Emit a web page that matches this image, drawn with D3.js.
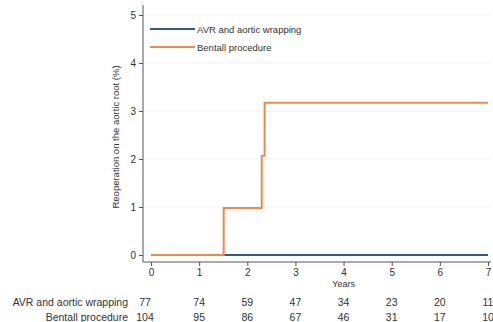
<!DOCTYPE html>
<html lang="en">
<head>
<meta charset="utf-8"/>
<script src="https://d3js.org/d3.v7.min.js"></script>
<style>
  body { margin: 0; background: #fff; }
  text { font-family: "Liberation Sans", Arial, sans-serif; fill: #333; }
</style>
</head>
<body>
<div id="km_chart"></div>
<script>
  const width = 493;
  const height = 322;

  // data
  const groups = ["AVR and aortic wrapping", "Bentall procedure"];
  const colors = ["#2f5d85", "#f08a4b"];
  // step curves: [year, cumulative %]
  const avrSteps = [[0, 0], [7, 0]];
  const bentallSteps = [[0, 0], [1.51, 0.98], [2.3, 2.07], [2.36, 3.17], [7, 3.17]];
  const xTicks = [0, 1, 2, 3, 4, 5, 6, 7];
  const yTicks = [0, 1, 2, 3, 4, 5];
  const avrAtRisk = [77, 74, 59, 47, 34, 23, 20, 11];
  const bentallAtRisk = [104, 95, 86, 67, 46, 31, 17, 10];

  const svg = d3.select("#km_chart").append("svg")
    .attr("width", width)
    .attr("height", height);

  const x = d3.scaleLinear().domain([0, 7]).range([151, 488]);
  const y = d3.scaleLinear().domain([0, 5]).range([255, 15]);

  // grid lines
  svg.append("g")
    .selectAll("line")
    .data(yTicks)
    .join("line")
    .attr("x1", 144)
    .attr("x2", 490)
    .attr("y1", d => y(d))
    .attr("y2", d => y(d))
    .attr("stroke", "#eef1f4")
    .attr("stroke-width", 1);

  // axes
  const yAxis = svg.append("g")
    .attr("transform", "translate(143,0)")
    .call(d3.axisLeft(y).tickValues(yTicks).tickFormat(d3.format("d")).tickSize(4).tickPadding(3));
  yAxis.select(".domain").attr("d", "M0,5V262").attr("stroke", "#555");
  yAxis.selectAll(".tick line").attr("stroke", "#555");
  yAxis.selectAll(".tick text").attr("font-size", 10).style("font-family", "Liberation Sans, Arial, sans-serif").attr("fill", "#333");

  const xAxis = svg.append("g")
    .attr("transform", "translate(0,262)")
    .call(d3.axisBottom(x).tickValues(xTicks).tickFormat(d3.format("d")).tickSize(4).tickPadding(3));
  xAxis.select(".domain").attr("d", "M143,0H491").attr("stroke", "#555");
  xAxis.selectAll(".tick line").attr("stroke", "#555");
  xAxis.selectAll(".tick text").attr("font-size", 10).style("font-family", "Liberation Sans, Arial, sans-serif").attr("fill", "#333");

  svg.append("text")
    .attr("x", x(4))
    .attr("y", 287)
    .attr("text-anchor", "middle")
    .attr("font-size", 9)
    .text("Years");

  svg.append("text")
    .attr("transform", "translate(119,137) rotate(-90)")
    .attr("text-anchor", "middle")
    .attr("font-size", 9.5)
    .text("Reoperation on the aortic root (%)");

  // step lines
  const line = d3.line()
    .x(d => x(d[0]))
    .y(d => y(d[1]))
    .curve(d3.curveStepAfter);

  [avrSteps, bentallSteps].forEach((steps, i) => {
    svg.append("path")
      .datum(steps)
      .attr("fill", "none")
      .attr("stroke", colors[i])
      .attr("stroke-width", 2)
      .attr("d", line);
  });

  // legend
  const legend = svg.append("g");
  groups.forEach((g, i) => {
    const ly = 29 + i * 18;
    legend.append("line")
      .attr("x1", 150).attr("x2", 195)
      .attr("y1", ly).attr("y2", ly)
      .attr("stroke", colors[i])
      .attr("stroke-width", 2);
    legend.append("text")
      .attr("x", 197)
      .attr("y", ly + 3.5)
      .attr("font-size", 9.5)
      .text(g);
  });

  // number at risk table
  const riskRows = [avrAtRisk, bentallAtRisk];
  riskRows.forEach((row, i) => {
    const ry = 306 + i * 15;
    svg.append("text")
      .attr("x", 128)
      .attr("y", ry)
      .attr("text-anchor", "end")
      .attr("font-size", 10.5)
      .text(groups[i]);
    svg.append("g")
      .selectAll("text")
      .data(row)
      .join("text")
      .attr("x", (d, j) => x(xTicks[j]) - (j === 0 ? 6 : 0))
      .attr("y", ry)
      .attr("text-anchor", "middle")
      .attr("font-size", 10.5)
      .text(d => d);
  });
</script>
</body>
</html>
